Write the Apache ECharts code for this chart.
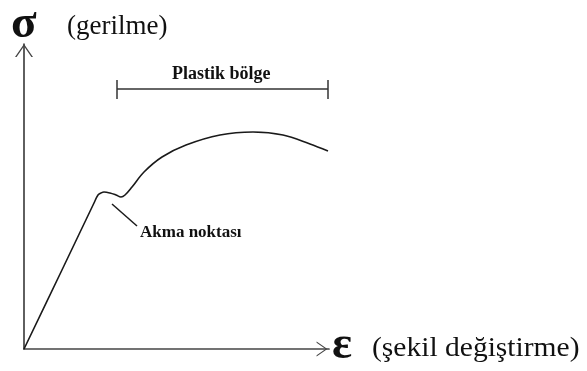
<!DOCTYPE html>
<html>
<head>
<meta charset="utf-8">
<script src="https://cdn.jsdelivr.net/npm/echarts@6/dist/echarts.min.js"></script>
<style>
html,body{margin:0;padding:0;background:#fff;}
#chart{width:587px;height:371px;}
</style>
</head>
<body>
<div id="chart"></div>
<script>
// Stress-strain curve (x = strain, y = stress), arbitrary units
const curveX = [0, 37, 70, 74, 77, 80, 86, 92, 97, 101, 108, 120, 138, 162, 196, 229, 259, 286, 304];
const curveY = [0, 77, 146, 154, 156, 157, 156, 154, 152, 154, 162, 177, 192, 204, 214, 217, 214, 205, 198];
// Leader line for "Akma noktası"
const leaderX = [88, 113];
const leaderY = [145, 123];
// Plastic region bracket: left tick, span, right tick
const bracketLeftX = [93, 93];
const bracketLeftY = [269, 250];
const bracketSpanX = [93, 304];
const bracketSpanY = [260, 260];
const bracketRightX = [304, 304];
const bracketRightY = [269, 250];
const labels = {
  yName: 'σ', yDesc: '(gerilme)',
  xName: 'ε', xDesc: '(şekil değiştirme)',
  plastic: 'Plastik bölge', yield: 'Akma noktası'
};

const chart = echarts.init(document.getElementById('chart'));
const serif = '"Liberation Serif", "DejaVu Serif", serif';
const chevron = 'path://M0,13 L9,0 L18,13 L16.4,13 L9,2.2 L1.6,13 Z';
const pairs = (xs, ys) => xs.map((x, i) => [x, ys[i]]);
const seg = (xs, ys, color, width) => ({
  type: 'line', data: pairs(xs, ys), showSymbol: false, silent: true,
  lineStyle: { color: color, width: width }
});

chart.setOption({
  animation: false,
  backgroundColor: '#fff',
  grid: { left: 24, right: 258, top: 44, bottom: 22 },
  xAxis: {
    type: 'value', min: 0, max: 305,
    axisLine: { show: true, lineStyle: { color: '#444', width: 1.7 },
      symbol: ['none', chevron], symbolSize: [15, 14], symbolOffset: [0, -7] },
    axisTick: { show: false }, axisLabel: { show: false }, splitLine: { show: false }
  },
  yAxis: {
    type: 'value', min: 0, max: 305,
    axisLine: { show: true, lineStyle: { color: '#444', width: 1.7 },
      symbol: ['none', chevron], symbolSize: [18, 13], symbolOffset: [0, -6.5] },
    axisTick: { show: false }, axisLabel: { show: false }, splitLine: { show: false }
  },
  series: [
    Object.assign(seg(curveX, curveY, '#1a1a1a', 1.6), { smooth: 0.35 }),
    seg(leaderX, leaderY, '#1a1a1a', 1.5),
    seg(bracketLeftX, bracketLeftY, '#333', 1.5),
    seg(bracketSpanX, bracketSpanY, '#333', 1.5),
    seg(bracketRightX, bracketRightY, '#333', 1.5)
  ],
  graphic: [
    { type: 'text', left: 11, top: 1, style: { text: labels.yName, font: 'bold 47px ' + serif, fill: '#111' } },
    { type: 'text', left: 67, top: 13, style: { text: labels.yDesc, font: '27px ' + serif, fill: '#111' } },
    { type: 'text', left: 172, top: 65, style: { text: labels.plastic, font: 'bold 18px ' + serif, fill: '#111' } },
    { type: 'text', left: 140, top: 224, style: { text: labels.yield, font: 'bold 17px ' + serif, fill: '#111' } },
    { type: 'text', left: 332, top: 322, style: { text: labels.xName, font: 'bold 47px ' + serif, fill: '#111' } },
    { type: 'text', left: 372, top: 335, scaleX: 1.055, style: { text: labels.xDesc, font: '28px ' + serif, fill: '#111' } }
  ]
});
</script>
</body>
</html>
